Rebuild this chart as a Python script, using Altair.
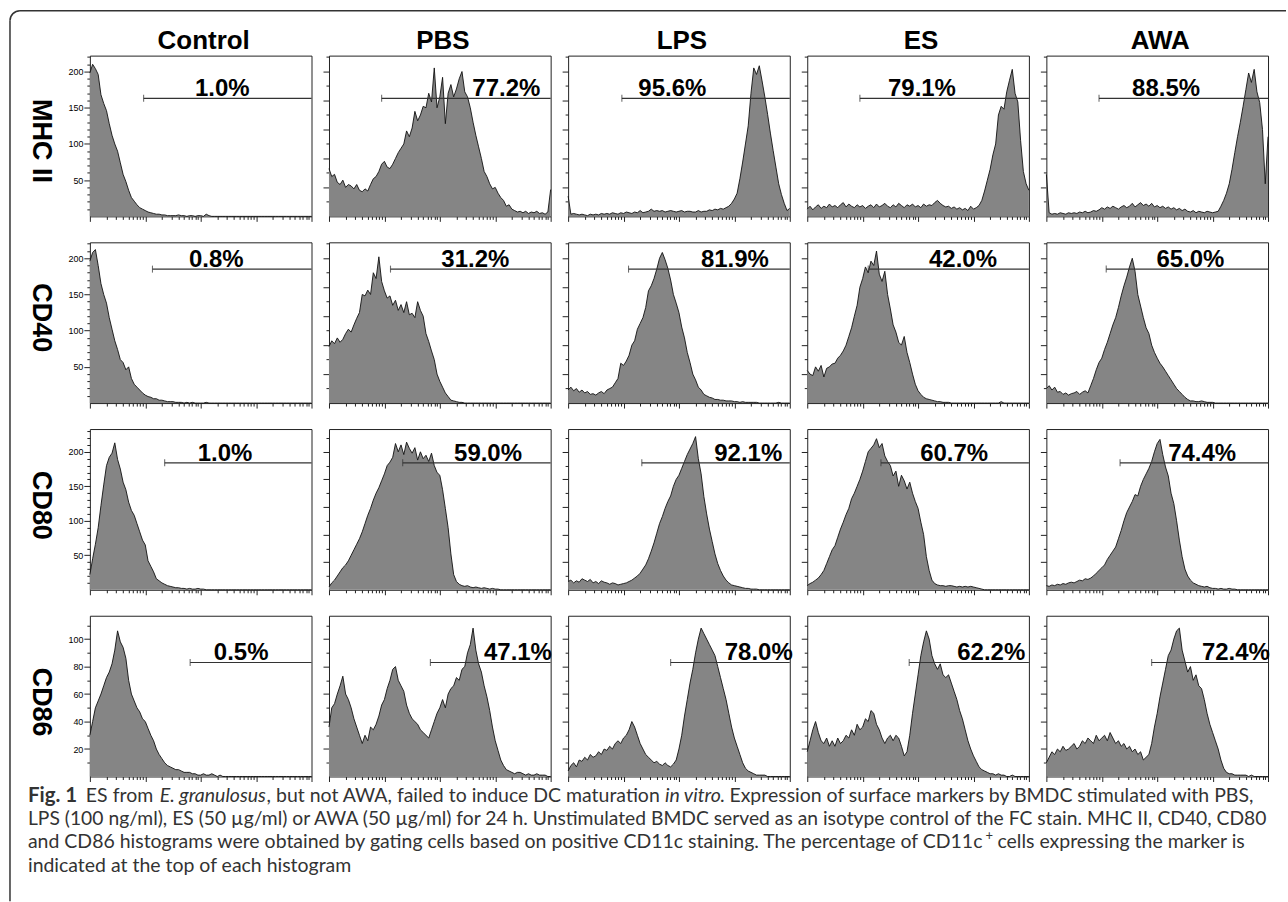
import math
import altair as alt
import numpy as np
import pandas as pd

# ---------------- data ----------------
X_DECADES = [round(i * 0.05, 2) for i in range(81)]   # log10 fluorescence, 0..4 decades

COLUMN_TITLES = ["Control", "PBS", "LPS", "ES", "AWA"]
ROW_MARKERS = ["MHC II", "CD40", "CD80", "CD86"]

# MHC II histograms (cell counts)
MHC_CONTROL = [198, 210, 204, 196, 168, 156, 146, 128, 112, 100,
               90, 74, 58, 48, 36, 26, 21, 16, 12, 10,
               8, 6, 5, 4, 3, 3, 2, 2, 1, 1,
               1, 1, 2, 1, 1, 0, 1, 1, 0, 1,
               1, 0, 3, 1, 0, 0, 0, 0, 0, 0,
               0, 0, 0, 0, 0, 0, 0, 0, 0, 0,
               0, 0, 0, 0, 0, 0, 0, 0, 0, 0,
               0, 0, 0, 0, 0, 0, 0, 0, 0, 0,
               0]
MHC_PBS = [66, 55, 58, 47, 44, 50, 40, 44, 42, 38,
           44, 36, 34, 38, 35, 44, 52, 55, 62, 72,
           76, 68, 66, 72, 80, 88, 94, 100, 118, 110,
           122, 145, 132, 140, 152, 150, 170, 158, 205, 150,
           165, 192, 128, 170, 182, 165, 176, 190, 200, 172,
           165, 150, 130, 112, 96, 80, 62, 55, 45, 38,
           40, 32, 26, 22, 14, 16, 10, 8, 6, 7,
           5, 7, 4, 6, 5, 7, 4, 5, 3, 6,
           37]
MHC_LPS = [28, 3, 4, 3, 2, 3, 2, 1, 3, 2,
           3, 2, 4, 3, 4, 3, 5, 4, 3, 5,
           4, 6, 5, 4, 6, 5, 8, 5, 6, 7,
           10, 7, 8, 7, 8, 6, 7, 8, 7, 6,
           7, 8, 6, 7, 7, 6, 6, 8, 6, 7,
           7, 9, 8, 10, 9, 11, 10, 12, 14, 18,
           24, 32, 52, 75, 100, 125, 170, 205, 196, 208,
           187, 165, 141, 115, 91, 68, 45, 30, 18, 8,
           11]
MHC_ES = [10, 14, 9, 13, 16, 11, 14, 12, 17, 13,
          15, 12, 16, 19, 13, 17, 14, 12, 16, 13,
          15, 11, 14, 16, 12, 17, 13, 15, 18, 14,
          12, 16, 13, 18, 15, 12, 16, 14, 17, 13,
          15, 12, 17, 14, 16, 15, 19, 22, 18, 15,
          13, 14, 11, 13, 10, 12, 9, 11, 8, 14,
          10, 12, 15, 22, 35, 50, 65, 85, 100, 140,
          152, 148, 172, 188, 203, 170, 158, 105, 62, 45,
          36]
MHC_AWA = [58, 5, 3, 4, 3, 5, 4, 3, 5, 4,
           5, 4, 6, 5, 7, 5, 6, 8, 7, 9,
           12, 10, 13, 11, 14, 12, 10, 13, 15, 12,
           14, 18, 13, 16, 19, 15, 17, 14, 18, 13,
           15, 12, 14, 11, 13, 10, 12, 9, 11, 8,
           10, 7, 6, 8, 5, 7, 6, 5, 7, 6,
           5, 6, 7, 14, 22, 32, 45, 65, 88, 110,
           130, 152, 175, 198, 185, 203, 172, 157, 120, 45,
           110]

# CD40 histograms
CD40_CONTROL = [196, 208, 212, 190, 165, 150, 138, 118, 102, 86,
                74, 60, 56, 46, 50, 34, 26, 22, 18, 14,
                11, 9, 8, 6, 6, 4, 4, 3, 2, 2,
                2, 1, 1, 1, 0, 1, 0, 1, 0, 0,
                0, 0, 1, 0, 0, 0, 0, 0, 0, 0,
                0, 0, 0, 0, 0, 0, 0, 0, 0, 0,
                0, 0, 0, 0, 0, 0, 0, 0, 0, 0,
                0, 0, 0, 0, 0, 0, 0, 0, 0, 0,
                0]
CD40_PBS = [78, 86, 82, 90, 84, 88, 96, 102, 98, 108,
            117, 125, 150, 148, 156, 150, 180, 172, 202, 168,
            155, 145, 148, 135, 142, 128, 136, 125, 140, 122,
            124, 118, 140, 128, 120, 96, 85, 72, 60, 40,
            30, 22, 14, 9, 4, 3, 2, 1, 1, 0,
            0, 0, 0, 0, 0, 0, 0, 0, 0, 0,
            0, 0, 0, 0, 0, 0, 0, 0, 0, 0,
            0, 0, 0, 0, 0, 0, 0, 0, 0, 0,
            0]
CD40_LPS = [18, 22, 17, 20, 15, 18, 14, 16, 12, 13,
            11, 14, 16, 13, 18, 20, 22, 28, 34, 55,
            52, 58, 66, 80, 86, 102, 110, 118, 132, 155,
            162, 172, 185, 200, 208, 198, 186, 170, 150, 138,
            125, 105, 90, 70, 56, 40, 32, 22, 18, 12,
            10, 8, 7, 5, 5, 4, 4, 3, 3, 3,
            2, 2, 1, 2, 1, 1, 1, 1, 1, 0,
            0, 0, 0, 0, 0, 0, 1, 0, 0, 0,
            0]
CD40_ES = [45, 40, 38, 50, 44, 52, 36, 48, 50, 54,
           55, 62, 66, 72, 80, 92, 104, 120, 135, 160,
           172, 188, 180, 196, 190, 210, 178, 168, 182, 150,
           130, 108, 98, 84, 80, 92, 70, 56, 40, 26,
           17, 12, 8, 6, 5, 4, 3, 2, 2, 1,
           1, 1, 0, 0, 0, 0, 0, 0, 0, 0,
           0, 0, 0, 0, 0, 0, 0, 0, 0, 0,
           2, 0, 0, 0, 0, 0, 0, 0, 0, 0,
           0]
CD40_AWA = [20, 24, 18, 22, 15, 16, 12, 14, 11, 13,
            14, 16, 12, 15, 17, 14, 24, 34, 46, 56,
            62, 74, 84, 96, 108, 118, 132, 148, 162, 174,
            188, 200, 182, 150, 134, 118, 104, 96, 80, 70,
            62, 55, 50, 44, 38, 32, 26, 20, 16, 12,
            8, 5, 3, 3, 2, 2, 3, 2, 1, 1,
            1, 0, 0, 0, 0, 0, 0, 0, 0, 0,
            0, 0, 0, 0, 0, 0, 0, 0, 0, 0,
            0]

# CD80 histograms
CD80_CONTROL = [22, 45, 66, 90, 122, 152, 180, 192, 198, 213,
                189, 175, 156, 145, 127, 115, 108, 96, 84, 72,
                65, 42, 34, 26, 16, 13, 10, 8, 6, 5,
                4, 3, 3, 2, 2, 1, 2, 1, 1, 2,
                1, 1, 0, 0, 0, 0, 0, 0, 0, 0,
                0, 0, 0, 0, 0, 0, 0, 0, 0, 0,
                0, 0, 0, 0, 0, 0, 0, 0, 0, 0,
                0, 0, 0, 0, 0, 0, 0, 0, 0, 0,
                0]
CD80_PBS = [4, 10, 14, 20, 26, 32, 36, 42, 50, 58,
            66, 74, 84, 96, 108, 118, 130, 140, 148, 158,
            168, 180, 185, 192, 212, 200, 210, 196, 214, 205,
            198, 206, 188, 200, 190, 195, 186, 198, 180, 170,
            166, 145, 118, 90, 52, 22, 12, 8, 6, 5,
            6, 4, 3, 4, 3, 2, 3, 2, 1, 2,
            1, 1, 0, 0, 0, 0, 0, 0, 0, 0,
            0, 0, 0, 0, 0, 0, 0, 0, 0, 0,
            0]
CD80_LPS = [12, 14, 10, 13, 11, 16, 14, 12, 15, 10,
            12, 9, 13, 11, 10, 8, 10, 9, 7, 8,
            9, 10, 12, 14, 17, 20, 24, 30, 36, 45,
            56, 68, 82, 96, 106, 118, 128, 136, 150, 160,
            166, 176, 186, 196, 204, 212, 222, 190, 168, 135,
            110, 88, 70, 52, 38, 28, 20, 14, 10, 7,
            6, 5, 4, 3, 2, 2, 1, 1, 1, 0,
            0, 0, 0, 0, 0, 0, 0, 0, 0, 0,
            0]
CD80_ES = [6, 9, 11, 14, 17, 22, 28, 38, 48, 58,
           64, 76, 88, 98, 109, 118, 132, 140, 150, 160,
           172, 186, 200, 205, 210, 219, 206, 212, 194, 186,
           180, 165, 172, 150, 166, 158, 146, 156, 140, 128,
           118, 98, 80, 48, 28, 14, 9, 7, 6, 6,
           5, 6, 6, 5, 4, 5, 4, 5, 4, 5,
           4, 3, 2, 1, 0, 0, 0, 0, 0, 0,
           0, 0, 0, 0, 0, 0, 0, 0, 0, 0,
           0]
CD80_AWA = [6, 5, 7, 6, 8, 7, 9, 8, 10, 11,
            10, 12, 14, 13, 16, 15, 17, 20, 24, 28,
            32, 36, 44, 50, 56, 62, 74, 86, 100, 112,
            120, 128, 138, 136, 150, 160, 168, 176, 186, 200,
            212, 218, 196, 178, 165, 140, 125, 100, 72, 48,
            30, 20, 14, 10, 8, 6, 5, 4, 5, 3,
            2, 2, 1, 2, 1, 1, 2, 1, 1, 0,
            0, 0, 0, 0, 0, 0, 0, 0, 0, 0,
            0]

# CD86 histograms
CD86_CONTROL = [30, 40, 50, 55, 60, 66, 72, 76, 82, 92,
                106, 98, 94, 86, 70, 60, 55, 50, 47, 42,
                40, 35, 30, 26, 20, 16, 13, 10, 8, 7,
                6, 5, 5, 4, 3, 3, 3, 2, 2, 1,
                1, 2, 1, 1, 2, 1, 0, 1, 0, 0,
                0, 0, 0, 0, 0, 0, 0, 0, 0, 0,
                0, 0, 0, 0, 0, 0, 0, 0, 0, 0,
                0, 0, 0, 0, 0, 0, 0, 0, 0, 0,
                0]
CD86_PBS = [36, 50, 53, 60, 66, 73, 60, 56, 50, 42,
            36, 30, 24, 30, 26, 36, 34, 38, 44, 52,
            56, 64, 70, 78, 80, 70, 66, 62, 52, 46,
            42, 40, 38, 34, 32, 30, 28, 34, 40, 46,
            50, 56, 50, 60, 64, 66, 72, 70, 78, 80,
            90, 96, 108, 92, 82, 76, 66, 58, 48, 36,
            26, 19, 12, 8, 5, 4, 3, 2, 3, 3,
            2, 1, 2, 1, 1, 2, 1, 1, 1, 0,
            0]
CD86_LPS = [4, 8, 10, 7, 12, 11, 14, 12, 16, 14,
            15, 18, 16, 20, 19, 22, 20, 24, 26, 24,
            28, 30, 34, 40, 36, 30, 24, 20, 16, 14,
            12, 10, 11, 9, 8, 10, 8, 7, 9, 12,
            20, 30, 44, 56, 68, 78, 90, 100, 108, 104,
            100, 96, 92, 88, 80, 72, 64, 56, 46, 36,
            28, 22, 16, 10, 6, 4, 3, 2, 1, 1,
            1, 1, 0, 0, 0, 0, 0, 0, 0, 0,
            0]
CD86_ES = [18, 26, 34, 40, 32, 26, 24, 28, 22, 26,
           22, 28, 24, 26, 30, 28, 34, 30, 38, 34,
           36, 42, 40, 48, 46, 38, 34, 28, 24, 28,
           30, 26, 30, 28, 22, 15, 18, 30, 46, 60,
           74, 88, 98, 106, 100, 88, 82, 78, 82, 74,
           72, 74, 68, 62, 56, 48, 42, 34, 26, 20,
           15, 11, 7, 5, 4, 3, 2, 2, 1, 2,
           1, 1, 0, 0, 1, 0, 0, 0, 0, 0,
           0]
CD86_AWA = [10, 14, 18, 16, 20, 18, 22, 19, 20, 22,
            24, 20, 22, 26, 24, 28, 26, 24, 30, 26,
            28, 30, 26, 32, 28, 24, 26, 22, 24, 20,
            22, 18, 20, 16, 18, 12, 14, 16, 24, 36,
            46, 58, 68, 78, 88, 92, 100, 106, 108, 92,
            84, 76, 80, 70, 74, 66, 64, 56, 46, 38,
            32, 26, 20, 12, 6, 3, 2, 2, 1, 1,
            1, 1, 1, 0, 1, 0, 0, 0, 0, 0,
            0]

HISTOGRAMS = [
    [MHC_CONTROL, MHC_PBS, MHC_LPS, MHC_ES, MHC_AWA],
    [CD40_CONTROL, CD40_PBS, CD40_LPS, CD40_ES, CD40_AWA],
    [CD80_CONTROL, CD80_PBS, CD80_LPS, CD80_ES, CD80_AWA],
    [CD86_CONTROL, CD86_PBS, CD86_LPS, CD86_ES, CD86_AWA],
]

# gate markers: percentage positive, gate start (decades), gate level (counts), label position
PERCENTS = [
    ["1.0%", "77.2%", "95.6%", "79.1%", "88.5%"],
    ["0.8%", "31.2%", "81.9%", "42.0%", "65.0%"],
    ["1.0%", "59.0%", "92.1%", "60.7%", "74.4%"],
    ["0.5%", "47.1%", "78.0%", "62.2%", "72.4%"],
]
GATE_START = [
    [0.97, 0.95, 0.97, 0.95, 0.95],
    [1.13, 1.11, 1.09, 1.10, 1.08],
    [1.35, 1.33, 1.33, 1.33, 1.33],
    [1.81, 1.83, 1.85, 1.84, 1.90],
]
LABEL_X = [
    [2.39, 3.20, 1.88, 2.07, 2.16],
    [2.28, 2.64, 3.01, 2.81, 2.60],
    [2.44, 2.87, 3.25, 2.65, 2.81],
    [2.73, 3.41, 3.44, 3.32, 3.42],
]
GATE_LEVEL = [163, 185, 184, 83]

# axis setup per row
Y_MAX = [222, 222, 233, 117]
FIRST_STEP = [10, 10, 10, 10]
FIRST_MAJOR = [50, 50, 50, 20]
OTHER_STEP = [20, 20, 20, 10]
OTHER_MAJOR = [40, 40, 40, 20]
ROW_LABEL_Y = [85, 75, 76, 86]

X_TICKS = sorted([d + math.log10(k) for d in range(4) for k in range(1, 10)] + [4.0])

# caption runs: text, x, baseline y (page pixels), style, align, font size
CAPTION_RUNS = [
    ("Fig. 1", 27, 802, "bold", "left", 20.5),
    ("ES from", 85, 802, "normal", "left", 19.5),
    ("E. granulosus", 159, 802, "italic", "left", 19.5),
    (", but not AWA, failed to induce DC maturation", 266, 802, "normal", "left", 19.5),
    ("in vitro", 665, 802, "italic", "left", 19.5),
    (". Expression of surface markers by BMDC stimulated with PBS,", 720, 802, "normal", "left", 19.5),
    ("LPS (100 ng/ml), ES (50 µg/ml) or AWA (50 µg/ml) for 24 h. Unstimulated BMDC served as an isotype control of the FC stain. MHC II, CD40, CD80",
     27, 825, "normal", "left", 19.3),
    ("and CD86 histograms were obtained by gating cells based on positive CD11c staining. The percentage of CD11c",
     27, 848, "normal", "left", 19.5),
    ("+", 986, 840, "normal", "left", 13),
    ("cells expressing the marker is", 998, 848, "normal", "left", 19.5),
    ("indicated at the top of each histogram", 27, 872, "normal", "left", 19.5),
]

# ---------------- chart ----------------
AX_FONT = "Liberation Sans"
CAP_FONT = "Lato"
PANEL_W, PANEL_H = 222, 161
COL_GAP, ROW_GAP = 17.5, 26
ORIGIN_X, ORIGIN_Y = 89, 615   # page position of the CD86 / Control plot (decoration anchor)
TITLE_BASELINE = 47


def decorations():
    one = pd.DataFrame({"k": [0]})
    layers = []
    fx, fy, fr = 9 - ORIGIN_X, 9 - ORIGIN_Y, 10
    layers.append(alt.Chart(one).mark_rule(color="#333", strokeWidth=1.5).encode(
        x=alt.value(fx + fr), x2=alt.value(1287 - ORIGIN_X), y=alt.value(fy)))
    layers.append(alt.Chart(one).mark_rule(color="#333", strokeWidth=1.5).encode(
        x=alt.value(fx), y=alt.value(fy + fr), y2=alt.value(901 - ORIGIN_Y)))
    layers.append(alt.Chart(one).mark_arc(
        radius=fr + 0.75, radius2=fr - 0.75, theta=1.5 * math.pi, theta2=2 * math.pi,
        color="#333").encode(x=alt.value(fx + fr), y=alt.value(fy + fr)))
    # column titles centred over each panel column
    for c, name in enumerate(COLUMN_TITLES):
        cx = c * (PANEL_W + COL_GAP) + PANEL_W / 2 + 3
        layers.append(alt.Chart(pd.DataFrame({"t": [name]})).mark_text(
            font=AX_FONT, fontSize=26, fontWeight="bold", align="center", baseline="alphabetic",
            color="black").encode(x=alt.value(cx), y=alt.value(TITLE_BASELINE - ORIGIN_Y), text="t:N"))
    for text, px, py, style, align, size in CAPTION_RUNS:
        props = dict(font=CAP_FONT, fontSize=size, align=align, baseline="alphabetic", color="#333")
        if style == "bold":
            props["fontWeight"] = "bold"
        elif style == "italic":
            props["fontStyle"] = "italic"
        layers.append(alt.Chart(pd.DataFrame({"t": [text]})).mark_text(**props).encode(
            x=alt.value(px - ORIGIN_X), y=alt.value(py - ORIGIN_Y), text="t:N"))
    return layers


def panel(r, c):
    ymax = Y_MAX[r]
    xs = alt.Scale(domain=[0, 4], nice=False, zero=False)
    ys = alt.Scale(domain=[0, ymax], nice=False, zero=True)
    step = FIRST_STEP[r] if c == 0 else OTHER_STEP[r]
    major = FIRST_MAJOR[r] if c == 0 else OTHER_MAJOR[r]
    yvals = list(range(step, ymax, step))
    ytick = {"condition": {"test": f"datum.value % {major} === 0", "value": 6}, "value": 3}
    if c == 0:
        yaxis = alt.Axis(values=yvals, tickSize=ytick, tickColor="#222", domain=False, grid=False,
                         labelExpr=f"datum.value % {major} === 0 ? datum.label : ''",
                         labelFont=AX_FONT, labelFontSize=9, labelColor="black", labelPadding=1,
                         labelOverlap=False,
                         title=ROW_MARKERS[r], titleAngle=90, titleX=-49, titleY=ROW_LABEL_Y[r],
                         titleAlign="center", titleBaseline="middle", titleFont=AX_FONT,
                         titleFontSize=27, titleFontWeight="bold", titleColor="black")
    else:
        yaxis = alt.Axis(values=yvals, tickSize=ytick, tickColor="#222", domain=False, grid=False,
                         labels=False, title=None)
    xaxis = alt.Axis(values=X_TICKS, labels=False, title=None, domain=False, grid=False,
                     tickColor="#222",
                     tickSize={"condition": {"test": "datum.value % 1 === 0", "value": 5}, "value": 3})
    X = alt.X("x:Q", scale=xs, axis=xaxis)
    Y = alt.Y("y:Q", scale=ys, axis=yaxis)

    hist = pd.DataFrame({"x": X_DECADES, "y": HISTOGRAMS[r][c]})
    gate = pd.DataFrame({"x": [GATE_START[r][c]], "x2": [4.0], "y": [GATE_LEVEL[r]],
                         "tx": [LABEL_X[r][c]], "label": [PERCENTS[r][c]]})

    area = alt.Chart(hist).mark_area(color="#858585", opacity=1,
                                     line={"color": "#111", "strokeWidth": 0.9}).encode(x=X, y=Y)
    rule = alt.Chart(gate).mark_rule(color="#333", strokeWidth=1.1).encode(x=X, x2="x2:Q", y=Y)
    tick = alt.Chart(gate).mark_tick(orient="vertical", size=7, thickness=1.1, color="#333").encode(x=X, y=Y)
    label = alt.Chart(gate).mark_text(font=AX_FONT, fontSize=24, fontWeight="bold", align="center",
                                      baseline="alphabetic", dy=-2, color="black").encode(
        x=alt.X("tx:Q", scale=xs, axis=xaxis), y=Y, text="label:N")
    layers = [area, rule, tick, label]
    if r == 3 and c == 0:
        layers += decorations()
    return alt.layer(*layers).properties(width=PANEL_W, height=PANEL_H)


panels = [panel(r, c) for r in range(4) for c in range(5)]

chart = (alt.concat(*panels, columns=5, spacing={"row": ROW_GAP, "column": COL_GAP}, bounds="flush")
         .resolve_scale(x="independent", y="independent")
         .properties(padding={"left": 8, "top": 8, "right": 0, "bottom": 0}, background="white")
         .configure_view(stroke="#222", strokeWidth=1))

chart.save("out.html", embed_options={"renderer": "svg", "actions": False})
